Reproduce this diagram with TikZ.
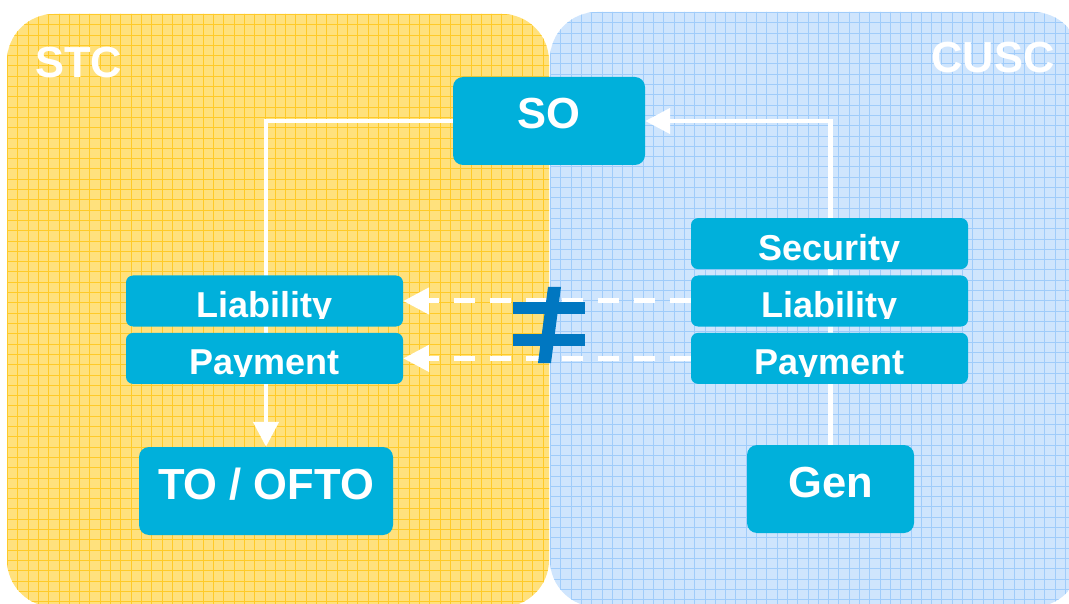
\documentclass[tikz,border=0pt]{standalone}
\usepackage{fontspec}
\setmainfont{Liberation Sans}
\usetikzlibrary{arrows.meta, positioning}
\definecolor{cStc}{RGB}{255,225,125}
\definecolor{cStcGrid}{RGB}{255,202,40}
\definecolor{cCusc}{RGB}{207,229,253}
\definecolor{cCuscGrid}{RGB}{160,204,250}
\definecolor{cBox}{RGB}{0,176,219}
\definecolor{cNeq}{RGB}{0,119,193}
\pgfdeclarelayer{back}
\pgfdeclarelayer{wires}
\pgfsetlayers{back,wires,main}

\begin{document}
\begin{tikzpicture}[x=1pt, y=-1pt,
    box/.style={fill=cBox, rounded corners=10pt, inner sep=0pt, minimum height=88pt,
                text=white, font=\fontsize{43.5}{50}\selectfont\bfseries,
                text height=31pt, text depth=15pt},
    bar/.style={fill=cBox, rounded corners=7pt, inner sep=0pt,
                minimum width=277pt, minimum height=51pt},
    bartext/.style={path picture={
        \clip (path picture bounding box.north west) rectangle ([yshift=-18pt]path picture bounding box.east);
        \node[anchor=base, inner sep=0pt, text=white, font=\fontsize{36}{40}\selectfont\bfseries]
          at ([yshift=-16.5pt]path picture bounding box.center) {#1};}},
    region/.style={inner sep=0pt, text=white, font=\fontsize{43.5}{50}\selectfont\bfseries},
    flow/.style={draw=white, line width=4.5pt, -{Triangle[length=25pt, width=25pt]}},
    dflow/.style={draw=white, line width=5pt, dash pattern=on 21pt off 15pt,
                  -{Triangle[length=26pt, width=26pt]}}]
  \useasboundingbox (0,0) rectangle (1069,604);

  % the two code areas, squared paper
  \begin{pgfonlayer}{back}
    \begin{scope}
      \clip[rounded corners=47pt] (7,14) rectangle (549,607);
      \fill[cStc] (0,0) rectangle (560,610);
      \foreach \gx in {7.5,17.8,...,560} \draw[cStcGrid, line width=1pt] (\gx,0) -- (\gx,610);
      \foreach \gy in {14.5,24.8,...,610} \draw[cStcGrid, line width=1pt] (0,\gy) -- (560,\gy);
    \end{scope}
    \begin{scope}
      \clip[rounded corners=47pt] (550,12) rectangle (1080,607);
      \fill[cCusc] (540,0) rectangle (1080,610);
      \foreach \gx in {550.5,560.8,...,1080} \draw[cCuscGrid, line width=1pt] (\gx,0) -- (\gx,610);
      \foreach \gy in {12.5,22.8,...,610} \draw[cCuscGrid, line width=1pt] (540,\gy) -- (1080,\gy);
    \end{scope}
  \end{pgfonlayer}

  \node[region, anchor=base west] (stc) at (35,78) {STC};
  \node[region, anchor=base east] (cusc) at (1055,73) {CUSC};

  % parties
  \node[box, minimum width=192pt] (so) at (549,121) {SO};
  \node[box, minimum width=254pt] (to) at (266,491) {TO / OFTO};
  \node[box, minimum width=167pt] (gen) at (830.5,489) {Gen};

  % terms on each side
  \node[bar, bartext=Liability] (llia) at (264.5,301) {};
  \node[bar, bartext=Payment, below=6pt of llia] (lpay) {};
  \node[bar, bartext=Liability] (rlia) at (829.5,301) {};
  \node[bar, bartext=Security, above=6pt of rlia] (rsec) {};
  \node[bar, bartext=Payment, below=6pt of rlia] (rpay) {};

  \begin{pgfonlayer}{wires}
    \draw[flow] (so.west) -| (to.north);
    \draw[flow] (gen.north) |- (so.east);
  \end{pgfonlayer}

  \draw[dflow] (rlia.west) -- (llia.east);
  \draw[dflow] (rpay.west) -- (lpay.east);

  % not-equal sign
  \fill[cNeq] (513,302) rectangle (585,314);
  \fill[cNeq] (513,334) rectangle (585,346);
  \fill[cNeq] (548,287) -- (561,287) -- (551,363) -- (538,363) -- cycle;
\end{tikzpicture}
\end{document}
